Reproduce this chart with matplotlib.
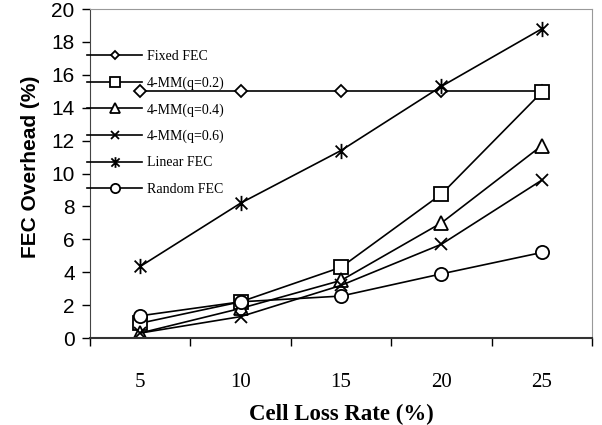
import numpy as np
import matplotlib
matplotlib.use("Agg")
import matplotlib.pyplot as plt
from matplotlib.path import Path

# data
loss_rate = ["5", "10", "15", "20", "25"]
fixed_fec = [15.0, 15.0, 15.0, 15.0, 15.0]
mm_q02 = [0.9, 2.2, 4.3, 8.75, 14.95]
mm_q04 = [0.3, 1.8, 3.5, 7.0, 11.7]
mm_q06 = [0.3, 1.3, 3.2, 5.7, 9.6]
linear_fec = [4.35, 8.2, 11.4, 15.3, 18.8]
random_fec = [1.35, 2.2, 2.55, 3.9, 5.2]

series_labels = ["Fixed FEC", "4-MM(q=0.2)", "4-MM(q=0.4)",
                 "4-MM(q=0.6)", "Linear FEC", "Random FEC"]

# Excel-style star: an x with a vertical stroke
star = Path(
    [(-1, -1), (1, 1), (-1, 1), (1, -1), (0, -1.3), (0, 1.3)],
    [Path.MOVETO, Path.LINETO, Path.MOVETO, Path.LINETO, Path.MOVETO, Path.LINETO],
)

styles = [
    dict(marker="D", ms=6.5),
    dict(marker="s", ms=9.5),
    dict(marker="^", ms=10),
    dict(marker="x", ms=9),
    dict(marker=star, ms=11),
    dict(marker="o", ms=9.5),
]

fig = plt.figure(figsize=(6.02, 4.25), dpi=100)
ax = fig.add_axes([0.1495, 0.2047, 0.834, 0.774])

x = np.arange(len(loss_rate))
all_series = [fixed_fec, mm_q02, mm_q04, mm_q06, linear_fec, random_fec]
for vals, lab, st in zip(all_series, series_labels, styles):
    ax.plot(x, vals, color="black", lw=1.2, marker=st["marker"], ms=st["ms"],
            mfc="white", mec="black", mew=1.3, label=lab)

ax.set_xlim(-0.5, len(loss_rate) - 0.5)
ax.set_ylim(0, 20)
ax.set_yticks(np.arange(0, 21, 2))
ax.set_xticks(x)
ax.set_xticklabels(loss_rate, family="Liberation Serif", fontsize=15)
ax.set_xticks(np.arange(-0.5, len(loss_rate)), minor=True)
ax.tick_params(axis="x", which="major", length=0, pad=25)
ax.tick_params(axis="x", which="minor", length=6, direction="out", width=1)
ax.tick_params(axis="y", length=6, width=1, direction="out", pad=5)
for t in ax.get_yticklabels():
    t.set_family("Liberation Sans")
    t.set_fontsize(15)

ax.spines["top"].set_color("#999999")
ax.spines["right"].set_color("#999999")
ax.spines["left"].set_color("#444444")
ax.spines["bottom"].set_color("#333333")
ax.spines["bottom"].set_linewidth(1.5)

ax.set_xlabel("Cell Loss Rate (%)", family="Liberation Serif", fontweight="bold",
              fontsize=16.5, labelpad=9)
ax.set_ylabel("FEC Overhead (%)", family="Liberation Sans", fontweight="bold",
              fontsize=15)
ax.yaxis.set_label_coords(-0.1, 0.52)

leg = ax.legend(loc="upper left", bbox_to_anchor=(-0.005, 0.875), frameon=False,
                prop={"family": "Liberation Serif", "size": 10},
                handlelength=3.9, handletextpad=0.35, labelspacing=0.95,
                borderaxespad=0, borderpad=0, markerscale=0.7)

fig.savefig("out.png", dpi=100)
